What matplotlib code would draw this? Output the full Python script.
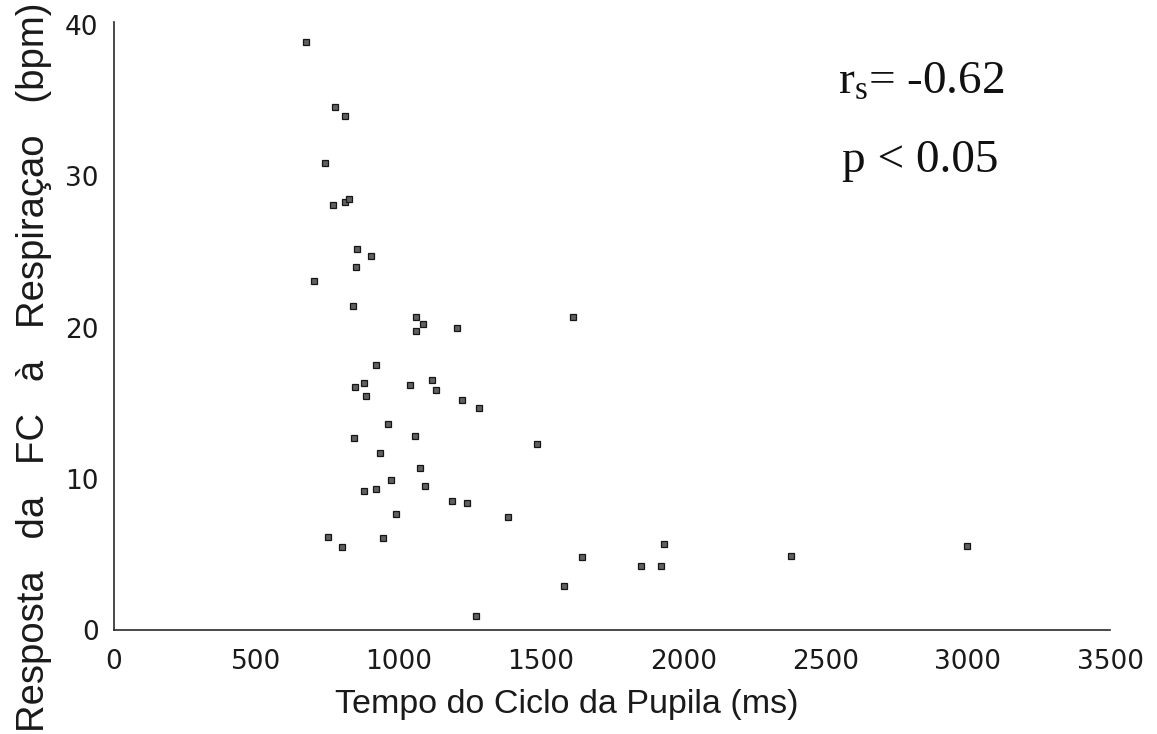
import matplotlib
matplotlib.use("Agg")
import matplotlib.pyplot as plt

# Pupil cycle time (ms) vs heart-rate response to breathing (bpm)
ciclo_pupila_ms = [676, 777, 812, 742, 771, 812, 826, 855, 904, 850,
                   702, 839, 1062, 1087, 1061, 1206, 1614, 920, 847, 878,
                   1039, 1118, 1132, 886, 1223, 1284, 963, 842, 1057, 1488,
                   934, 1077, 975, 880, 922, 1092, 1187, 1241, 990, 1385,
                   751, 945, 802, 1645, 1582, 1273, 1931, 1853, 1923, 2378,
                   2999]
resposta_fc_bpm = [38.9, 34.6, 34.0, 30.9, 28.1, 28.3, 28.5, 25.2, 24.7, 24.0,
                   23.1, 21.4, 20.7, 20.2, 19.8, 20.0, 20.7, 17.5, 16.1, 16.3,
                   16.2, 16.5, 15.9, 15.5, 15.2, 14.7, 13.6, 12.7, 12.8, 12.3,
                   11.7, 10.7, 9.9, 9.2, 9.3, 9.5, 8.5, 8.4, 7.65, 7.5,
                   6.15, 6.1, 5.5, 4.8, 2.9, 0.9, 5.67, 4.2, 4.25, 4.87,
                   5.53]

x_ticks = [0, 500, 1000, 1500, 2000, 2500, 3000, 3500]
y_ticks = [0, 10, 20, 30, 40]

plt.rcParams['font.family'] = ['Liberation Sans', 'DejaVu Sans']
plt.rcParams['mathtext.fontset'] = 'custom'
plt.rcParams['mathtext.rm'] = 'Liberation Serif'
plt.rcParams['mathtext.it'] = 'Liberation Serif'

ink = '#1a1a1a'

fig = plt.figure(figsize=(11.57, 7.34), dpi=100)
ax = fig.add_axes([0.0985, 0.1417, 0.8609, 0.8283])

ax.plot(ciclo_pupila_ms, resposta_fc_bpm, linestyle='none', marker='s',
        markersize=4.2, markerfacecolor='#606060', markeredgecolor='#151515',
        markeredgewidth=0.9)

ax.set_xlim(0, 3500)
ax.set_ylim(0, 40.2)
ax.set_xticks(x_ticks)
ax.set_yticks(y_ticks)
ax.tick_params(length=0, labelsize=19, colors=ink)
ax.tick_params(axis='x', pad=14)
ax.tick_params(axis='y', pad=11)
for lab in ax.get_xticklabels() + ax.get_yticklabels():
    lab.set_family('DejaVu Sans')

for side in ('top', 'right'):
    ax.spines[side].set_visible(False)
for side in ('left', 'bottom'):
    ax.spines[side].set_color('#2a2a2a')
    ax.spines[side].set_linewidth(1.2)

ax.set_xlabel('Tempo do Ciclo da Pupila (ms)', fontsize=24.5, color=ink)
ax.xaxis.set_label_coords(0.455, -0.097)
ax.set_ylabel('Resposta   da   FC   à   Respiraçao   (bpm)',
              fontsize=27.5, color=ink)
ax.yaxis.set_label_coords(-0.062, 0.432)

ax.text(0.727, 0.882, r'$\mathrm{r_s}$= -0.62', transform=ax.transAxes,
        fontsize=34, family='Liberation Serif', ha='left', va='baseline',
        color='#111111')
ax.text(0.731, 0.753, 'p < 0.05', transform=ax.transAxes,
        fontsize=34, family='Liberation Serif', ha='left', va='baseline',
        color='#111111')

fig.savefig('out.png', dpi=100, facecolor='white')
